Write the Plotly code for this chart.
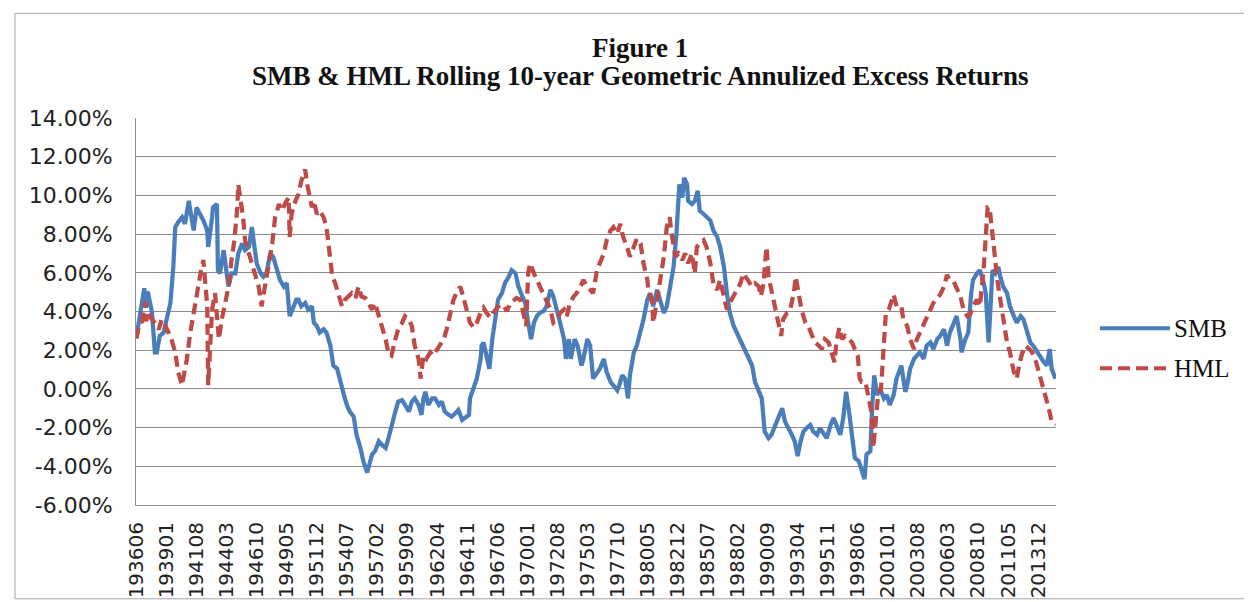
import plotly.graph_objects as go

# ---------------- data ----------------
smb_months = [
    "193606", "193609", "193612", "193702", "193704", "193705",
    "193706", "193710", "193801", "193803", "193806", "193810", "193901", "193905", "193908", "193910",
    "194001", "194005", "194008", "194012", "194101", "194105", "194108", "194112", "194203", "194207",
    "194208", "194212", "194301", "194305", "194306", "194308", "194312", "194403", "194405", "194408",
    "194412", "194503", "194507", "194510", "194602", "194605", "194608", "194610", "194702", "194705",
    "194708", "194712", "194803", "194807", "194810", "194902", "194905", "194908", "194912", "195003",
    "195005", "195008", "195012", "195103", "195107", "195109", "195112", "195203", "195207", "195210",
    "195302", "195305", "195309", "195312", "195404", "195407", "195410", "195502", "195505", "195509",
    "195512", "195604", "195606", "195609", "195612", "195704", "195707", "195711", "195802", "195805",
    "195809", "195812", "195904", "195907", "195911", "196002", "196005", "196009", "196012", "196102",
    "196104", "196107", "196111", "196202", "196206", "196209", "196212",
    "196304", "196307", "196311", "196402", "196406", "196409", "196501", "196502", "196506", "196509",
    "196601", "196602", "196604", "196607", "196610", "196701", "196704", "196707", "196711", "196802",
    "196806", "196809", "196901", "196904", "196908", "196911", "197002", "197005", "197008", "197011",
    "197102", "197106", "197109", "197201", "197204", "197208", "197211", "197303", "197305", "197308",
    "197310", "197402", "197405", "197409", "197411", "197503", "197506", "197509", "197601", "197604",
    "197608",
    "197611", "197703", "197706", "197710", "197712", "197803", "197806", "197809", "197811", "197903",
    "197906", "197910", "198001", "198005", "198008", "198011", "198103", "198106", "198110", "198201",
    "198205", "198208", "198211", "198302", "198305", "198307", "198310", "198311", "198403", "198406",
    "198409", "198411", "198503", "198506", "198510", "198601", "198605", "198608", "198612", "198703",
    "198706", "198710", "198801", "198805", "198808", "198812",
    "198905", "198908", "198912", "199003", "199006", "199010", "199101", "199105", "199108", "199112",
    "199203", "199207", "199210", "199301", "199304", "199307", "199310", "199401", "199405", "199408",
    "199412", "199503", "199507", "199510", "199602", "199605", "199608", "199612", "199703", "199706",
    "199709", "199712", "199803", "199807", "199810", "199901", "199903", "199907", "199909", "199911",
    "200002", "200005", "200009", "200012", "200103", "200107", "200110",
    "200203", "200207", "200209", "200212", "200304", "200307", "200310", "200402", "200405", "200409",
    "200412", "200504", "200507", "200511", "200602", "200605", "200609", "200612", "200704", "200705",
    "200709", "200712", "200803", "200805", "200809", "200812", "200904", "200906", "200909", "200911",
    "201001", "201004", "201007", "201009", "201012", "201104", "201107", "201111", "201202", "201206",
    "201209", "201301", "201304", "201307", "201311", "201402", "201406", "201409", "201412", "201502",
    "201506",
]
smb_values = [
    2.70, 3.60, 4.40, 5.20, 4.20, 5.00,
    4.95, 3.93, 1.89, 1.89, 2.74, 2.91, 3.59, 4.44, 6.31, 8.36,
    8.61, 8.87, 8.53, 9.72, 9.38, 8.19, 9.38, 9.04, 8.70, 8.19,
    7.34, 8.87, 9.38, 9.55, 6.14, 5.97, 7.17, 5.97, 5.29, 5.97,
    5.97, 7.00, 7.51, 7.17, 7.34, 8.36, 7.34, 6.49, 5.97, 5.80,
    5.97, 7.00, 6.83, 6.14, 5.63, 5.29, 5.46, 3.76, 4.27, 4.61,
    4.61, 4.27, 4.44, 4.10, 4.27, 3.42, 3.25, 2.91, 3.08, 2.91,
    2.23, 1.21, 1.04, 0.36, -0.32, -0.83, -1.17, -1.43, -2.37, -3.05,
    -3.73, -4.32, -3.90, -3.39, -3.22, -2.71, -2.88, -3.05, -2.54, -1.86,
    -1.17, -0.66, -0.58, -0.83, -1.17, -0.66, -0.49, -0.83, -1.34, -0.49,
    -0.15, -0.83, -0.49, -0.49, -0.83, -0.66, -1.17,
    -1.34, -1.43, -1.26, -1.09, -1.60, -1.51, -1.34, -0.49, 0.02, 0.53,
    1.55, 2.23, 2.40, 1.72, 1.04, 2.57, 3.59, 4.61, 4.95, 5.46,
    5.80, 6.14, 5.97, 5.29, 4.78, 4.44, 3.42, 2.57, 3.42, 3.76,
    3.93, 4.02, 4.27, 5.12, 4.78, 4.10, 3.42, 2.57, 1.55, 2.57,
    1.55, 2.57, 2.23, 1.21, 1.55, 2.57, 2.23, 0.53, 0.87, 1.04,
    1.55,
    0.87, 0.36, 0.19, -0.07, 0.19, 0.70, 0.53, -0.49, 0.70, 1.89,
    2.23, 2.91, 3.59, 4.61, 4.95, 4.27, 5.12, 4.61, 3.93, 4.27,
    5.29, 6.31, 8.02, 10.57, 9.89, 10.91, 10.57, 9.72, 9.55, 9.72,
    10.23, 9.21, 9.04, 8.87, 8.70, 8.19, 7.85, 7.34, 6.31, 4.95,
    3.93, 3.25, 2.91, 2.57, 2.23, 1.72,
    1.21, 0.36, -0.15, -0.49, -2.20, -2.54, -2.37, -1.86, -1.51, -1.00,
    -1.69, -2.03, -2.37, -2.71, -3.47, -2.71, -2.20, -2.03, -1.86, -2.20,
    -2.37, -2.03, -2.37, -2.54, -1.86, -1.51, -1.86, -2.37, -1.51, -0.15,
    -1.17, -2.37, -3.56, -3.73, -4.24, -4.66, -3.39, -3.22, -0.83, 0.70,
    -0.32, 0.02, -0.49, -0.32, -0.83, -0.32, 0.53,
    1.21, -0.15, 0.19, 1.04, 1.55, 1.72, 1.89, 1.55, 2.23, 2.40,
    2.06, 2.57, 2.74, 3.08, 2.23, 2.91, 3.42, 3.76, 2.57, 1.89,
    2.57, 2.91, 4.95, 5.63, 5.97, 6.14, 5.46, 4.95, 2.40, 4.95,
    6.14, 5.97, 6.31, 5.80, 5.29, 4.95, 4.27, 3.76, 3.42, 3.76,
    3.59, 2.91, 2.40, 2.23, 1.89, 1.72, 1.38, 1.21, 2.06, 1.04,
    0.53,
]

hml_months = [
    "193606", "193609", "193612", "193703", "193704", "193705",
    "193706", "193710", "193801", "193805", "193808", "193812", "193903", "193906", "193910", "194001",
    "194005", "194008", "194010", "194101", "194105", "194108", "194112", "194203", "194205", "194207",
    "194208", "194210", "194212", "194303", "194305", "194307", "194310", "194401", "194405", "194408",
    "194411", "194502", "194503", "194506", "194508", "194510", "194602", "194605", "194608", "194612",
    "194703", "194707", "194710", "194802", "194805", "194809", "194812", "194903", "194907", "194908",
    "194910", "195002", "195005",
    "195008", "195012", "195102", "195105", "195107", "195109", "195112", "195203", "195207", "195210",
    "195212", "195302", "195304", "195307", "195310", "195402", "195405", "195409", "195412", "195504",
    "195507", "195510", "195602", "195605", "195609", "195612", "195704", "195707", "195711", "195802",
    "195805", "195809", "195812", "195904", "195907", "195911", "196002", "196005", "196009", "196011",
    "196102", "196105", "196109", "196112", "196204", "196207", "196211", "196302",
    "196306", "196309", "196312", "196404", "196407", "196411", "196502", "196506", "196509", "196601",
    "196604", "196607", "196611", "196702", "196706", "196709", "196801", "196804", "196808", "196811",
    "196902", "196906", "196909", "196912", "197002", "197004", "197008", "197011", "197102", "197106",
    "197109", "197201", "197204", "197208", "197211", "197303", "197306", "197309", "197401", "197404",
    "197408", "197411", "197503", "197506", "197509", "197601", "197604", "197608",
    "197611", "197703", "197706", "197710", "197801", "197804", "197808", "197811", "197903", "197906",
    "197910", "198001", "198005", "198006", "198010", "198011", "198103", "198106", "198110", "198201",
    "198204", "198206", "198210", "198301", "198305", "198308", "198311", "198403", "198406", "198408",
    "198411", "198503", "198506", "198510", "198601", "198605", "198608", "198612", "198703", "198706",
    "198710", "198801", "198805", "198808", "198812",
    "198905", "198908", "198912", "199002", "199005", "199006", "199008", "199010", "199101", "199105",
    "199108", "199111", "199201", "199205", "199208", "199212", "199302", "199305", "199308", "199312",
    "199403", "199407", "199410", "199502", "199505", "199508", "199512", "199603", "199606", "199608",
    "199611", "199702", "199705", "199709", "199712", "199803", "199806", "199808", "199810", "199902",
    "199905", "199908", "199910", "199912", "200002", "200003", "200006", "200008", "200010", "200011",
    "200102", "200105", "200107", "200110",
    "200203", "200205", "200209", "200212", "200304", "200307", "200310", "200402", "200405", "200409",
    "200412", "200504", "200507", "200511", "200602", "200605", "200609", "200612", "200704", "200707",
    "200711", "200802", "200805", "200809", "200812", "200904", "200906", "200908", "200910", "200912",
    "201003", "201006", "201008", "201011", "201102", "201104", "201107", "201111", "201202", "201205",
    "201208", "201211", "201303", "201306", "201310", "201401", "201404", "201407", "201411", "201502",
    "201506",
]
hml_values = [
    2.60, 3.40, 3.50, 4.50, 3.50, 3.70,
    3.93, 3.59, 3.42, 3.08, 3.59, 3.25, 2.91, 2.57, 1.89, 0.87,
    0.19, 1.04, 1.55, 2.74, 3.93, 4.95, 5.97, 6.66, 5.46, 4.27,
    0.19, 2.74, 4.10, 4.95, 3.59, 2.57, 3.59, 4.27, 5.29, 6.66,
    7.68, 9.38, 10.57, 9.55, 8.87, 7.68, 7.00, 6.66, 5.97, 5.29,
    4.27, 5.29, 6.31, 7.51, 8.87, 9.55, 9.21, 9.55, 9.89, 7.85,
    9.04, 9.72, 10.06,
    10.74, 11.34, 10.57, 9.89, 9.38, 9.72, 9.04, 9.21, 8.87, 8.36,
    7.60, 6.80, 5.80, 5.46, 4.95, 4.27, 4.61, 4.78, 4.95, 4.70,
    5.29, 4.78, 4.70, 4.44, 4.10, 4.44, 3.76, 3.25, 2.57, 1.80,
    1.72, 2.57, 3.08, 3.42, 3.76, 3.59, 3.25, 2.23, 1.55, 0.53,
    1.72, 1.55, 1.89, 1.72, 2.06, 2.23, 2.57, 3.08,
    3.93, 4.61, 4.95, 5.29, 4.78, 3.93, 3.42, 3.17, 3.42, 3.93,
    4.19, 3.93, 3.68, 3.93, 4.19, 4.36, 4.27, 4.02, 4.44, 4.61,
    4.70, 4.61, 3.93, 3.25, 5.97, 6.49, 5.97, 5.63, 5.29, 4.95,
    4.61, 4.10, 3.42, 3.59, 3.93, 4.10, 3.76, 4.44, 4.78, 4.95,
    5.29, 5.63, 5.29, 5.12, 4.95, 6.14, 6.49, 6.99,
    7.68, 8.19, 8.36, 8.02, 8.53, 7.85, 7.34, 6.83, 7.34, 7.76,
    7.51, 6.49, 5.63, 5.12, 4.44, 3.42, 4.61, 5.46, 6.83, 8.36,
    8.87, 8.02, 6.83, 7.00, 6.66, 7.00, 6.49, 7.00, 5.97, 7.34,
    7.51, 7.68, 7.34, 6.49, 5.46, 5.12, 5.63, 4.78, 4.10, 4.44,
    4.78, 5.12, 5.46, 5.97, 5.63,
    5.29, 5.46, 5.29, 4.78, 5.46, 6.31, 7.34, 5.80, 5.12, 4.10,
    3.59, 2.74, 3.59, 3.93, 4.02, 4.95, 5.80, 4.95, 4.10, 3.42,
    3.25, 2.74, 2.40, 2.23, 2.06, 2.57, 2.40, 1.89, 1.38, 2.40,
    3.17, 2.57, 2.74, 2.57, 2.40, 2.06, 1.72, 0.53, 0.36, 0.36,
    -0.32, -1.17, -3.05, -2.03, -1.00, -0.32, 0.02, 1.55, 2.57, 3.93,
    4.10, 4.61, 4.87, 4.27,
    4.27, 3.59, 3.25, 2.57, 2.06, 2.57, 2.91, 3.25, 3.59, 4.10,
    4.44, 4.70, 4.87, 5.29, 5.89, 5.63, 5.55, 5.21, 4.78, 4.10,
    3.76, 3.85, 4.27, 4.61, 4.27, 6.31, 7.68, 9.38, 9.38, 8.36,
    7.34, 5.63, 4.95, 3.93, 2.91, 2.40, 1.89, 0.87, 0.53, 1.38,
    1.89, 2.23, 2.06, 1.89, 1.38, 0.87, 0.36, -0.32, -1.00, -1.69,
    -1.86,
]

tick_labels = [
    "193606", "193901", "194108", "194403", "194610", "194905", "195112", "195407",
    "195702", "195909", "196204", "196411", "196706", "197001", "197208", "197503",
    "197710", "198005", "198212", "198507", "198802", "199009", "199304", "199511",
    "199806", "200101", "200308", "200603", "200810", "201105", "201312",
]
y_ticks = [-6, -4, -2, 0, 2, 4, 6, 8, 10, 12, 14]
first_month, last_month = "193606", "201506"

title_line1 = "Figure 1"
title_line2 = "SMB & HML Rolling 10-year Geometric Annulized Excess Returns"
series_names = ["SMB", "HML"]


def month_index(s):
    return (int(s[:4]) - int(first_month[:4])) * 12 + int(s[4:]) - int(first_month[4:])


n_cat = month_index(last_month) + 1

BLUE = "#4A7EBB"
RED = "#BE4B48"
GRID = "#8C8C8C"
DASH = "11px,6px"

fig = go.Figure()
fig.add_trace(go.Scatter(
    x=[month_index(m) for m in smb_months], y=smb_values, name=series_names[0],
    mode="lines", line=dict(color=BLUE, width=4.25), showlegend=False,
))
fig.add_trace(go.Scatter(
    x=[month_index(m) for m in hml_months], y=hml_values, name=series_names[1],
    mode="lines", line=dict(color=RED, width=4.25, dash=DASH), showlegend=False,
))

# plot area geometry (pixels) used for placing decorations in paper space
L, R, T, B = 128, 204, 110, 100
W, H = 1252, 602
pw, ph = W - L - R, H - T - B


def px_x(p):
    return (p - L) / pw


def px_y(p):
    return (H - B - p) / ph


fig.update_layout(
    width=W, height=H,
    margin=dict(l=L, r=R, t=T, b=B, pad=0),
    paper_bgcolor="white", plot_bgcolor="white",
    font=dict(family="DejaVu Sans", color="#222222"),
    xaxis=dict(
        range=[-0.5, n_cat - 0.5],
        tickmode="array",
        tickvals=[month_index(t) for t in tick_labels],
        ticktext=tick_labels,
        tickangle=-90,
        tickfont=dict(family="DejaVu Sans", size=20, color="#222222"),
        showgrid=False, zeroline=False,
        showline=True, linecolor=GRID, linewidth=1,
        ticks="", ticklabelstandoff=8,
    ),
    yaxis=dict(
        range=[-6, 14],
        tickmode="array",
        tickvals=y_ticks,
        ticktext=["%.2f%%" % v for v in y_ticks],
        tickfont=dict(family="DejaVu Sans", size=22, color="#222222"),
        showgrid=True, gridcolor=GRID, gridwidth=1,
        zeroline=False,
        showline=True, linecolor=GRID, linewidth=1,
        ticks="", ticklabelstandoff=18,
    ),
)

# titles
fig.add_annotation(text="<b>%s</b>" % title_line1, xref="paper", yref="paper",
                   x=px_x(632), y=px_y(39.5), xanchor="center", yanchor="middle",
                   showarrow=False, font=dict(family="Liberation Serif", size=27, color="#111111"))
fig.add_annotation(text="<b>%s</b>" % title_line2, xref="paper", yref="paper",
                   x=px_x(632), y=px_y(67), xanchor="center", yanchor="middle",
                   showarrow=False, font=dict(family="Liberation Serif", size=27, color="#111111"))

# hand-drawn legend (long line samples like the reference)
for name, color, dash, ypx in [(series_names[0], BLUE, "solid", 323), (series_names[1], RED, "12px,6px", 363.5)]:
    fig.add_shape(type="line", xref="paper", yref="paper",
                  x0=px_x(1092), x1=px_x(1162), y0=px_y(ypx), y1=px_y(ypx),
                  line=dict(color=color, width=4, dash=dash))
    fig.add_annotation(text=name, xref="paper", yref="paper",
                       x=px_x(1164), y=px_y(ypx), xanchor="left", yanchor="middle",
                       showarrow=False, font=dict(family="Liberation Serif", size=25, color="#111111"))

# chart-area border
fig.add_shape(type="rect", xref="paper", yref="paper",
              x0=px_x(7), x1=px_x(1246), y0=px_y(597), y1=px_y(4),
              line=dict(color="#A6A6A6", width=1), fillcolor="rgba(0,0,0,0)", layer="below")

fig.write_html("out.html")
